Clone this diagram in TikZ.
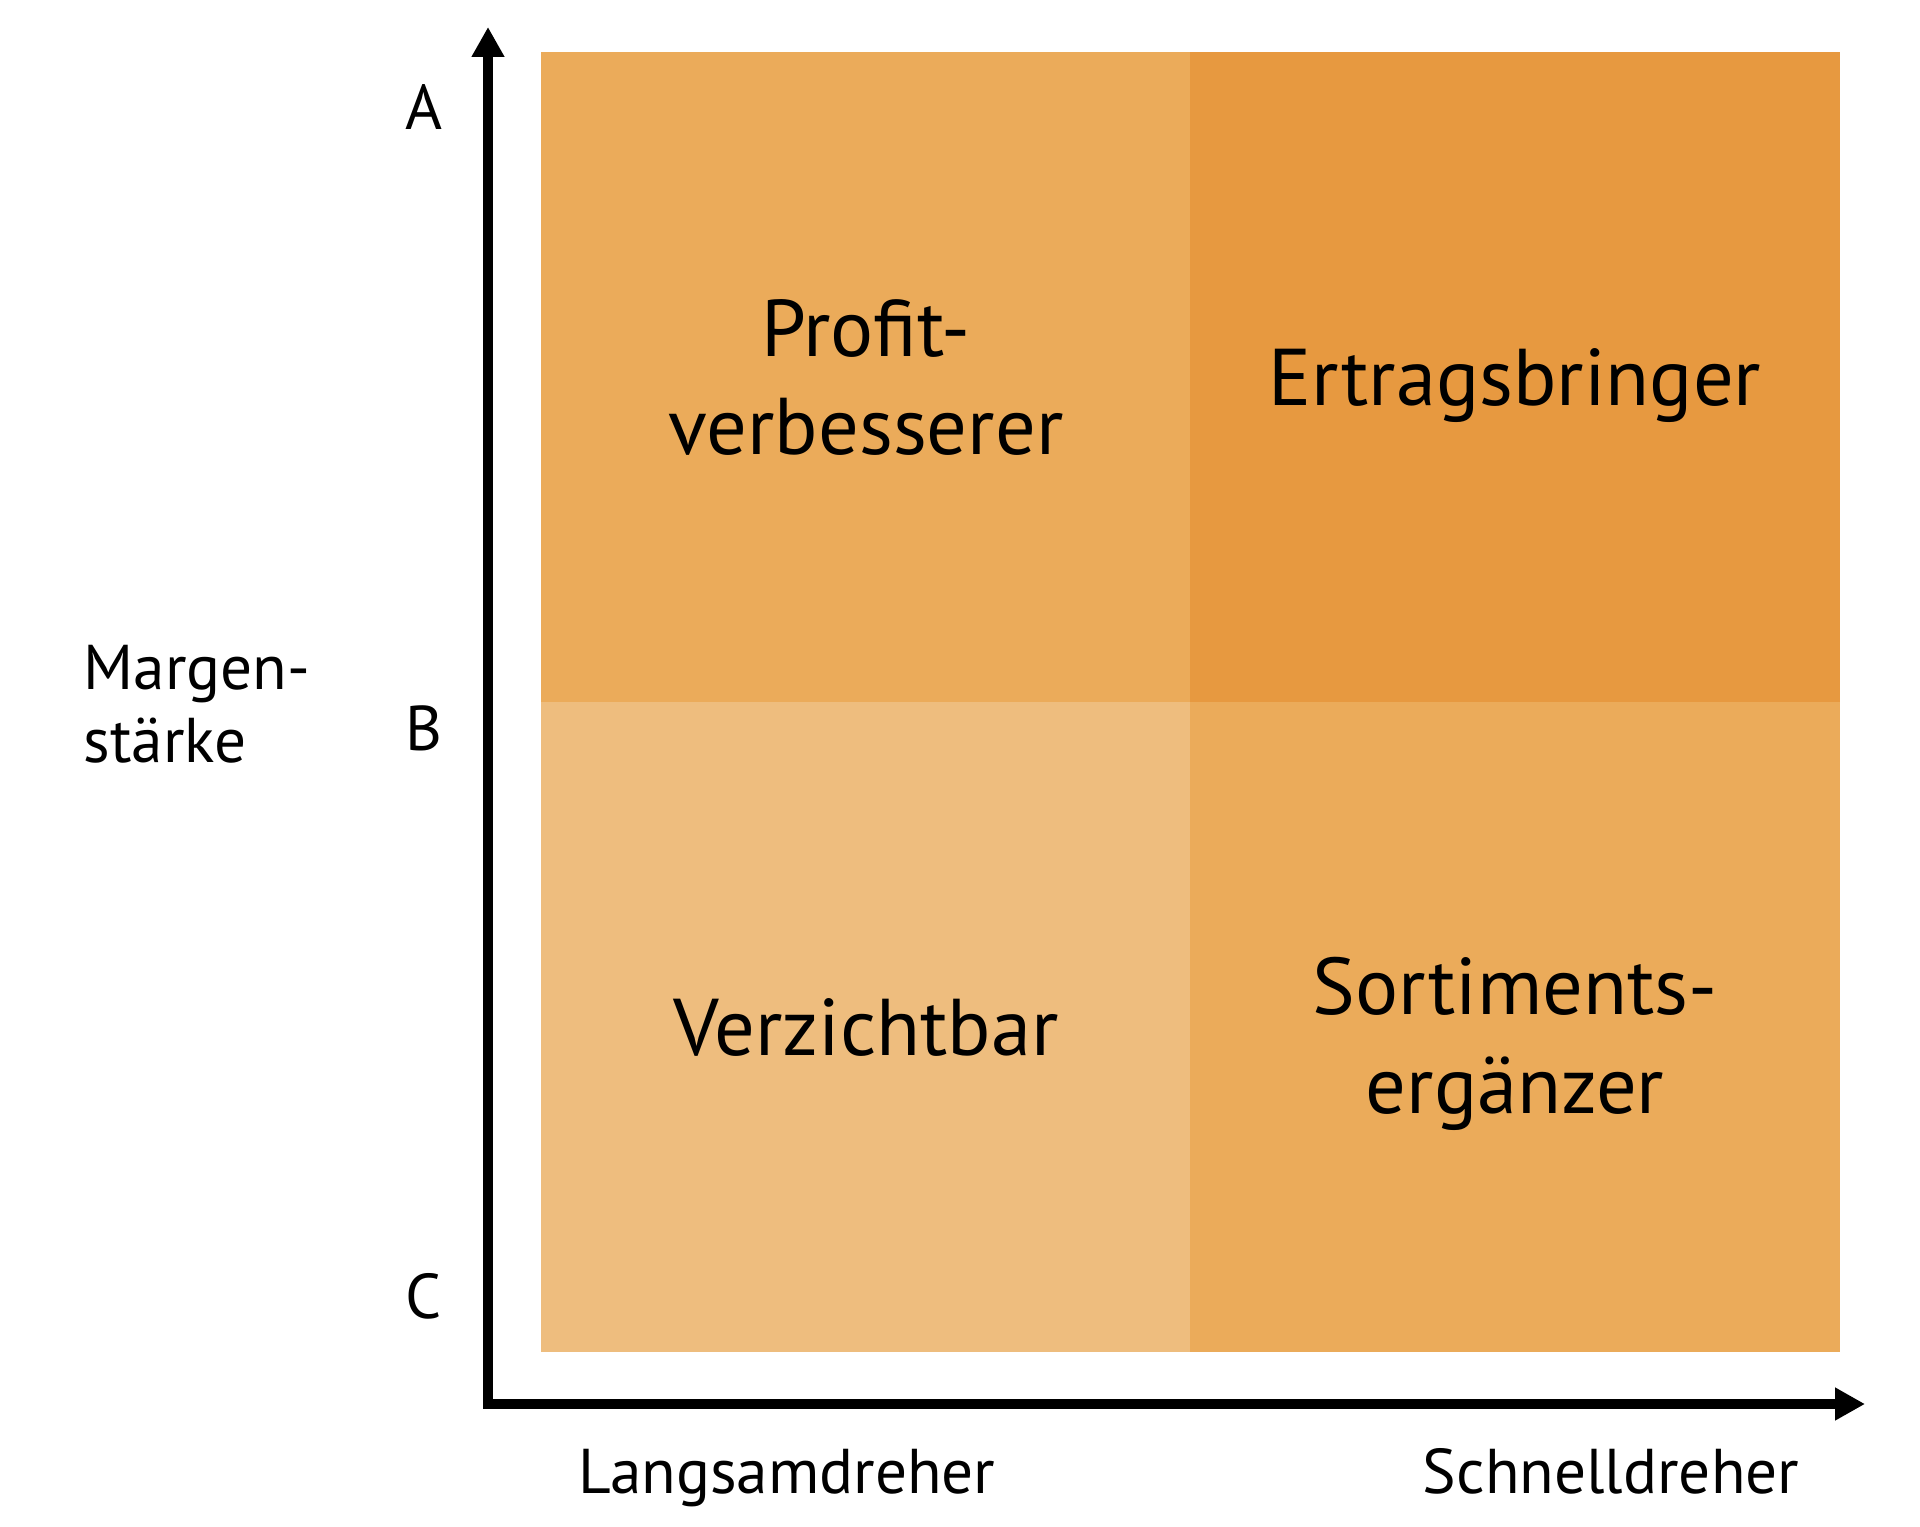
\documentclass[tikz,border=0pt]{standalone}
\usepackage{fontspec}
\setmainfont{PT Sans}
\usetikzlibrary{arrows.meta}

\definecolor{feldmittel}{RGB}{235,171,90}
\definecolor{felddunkel}{RGB}{231,153,64}
\definecolor{feldhell}{RGB}{238,189,126}

\begin{document}
\begin{tikzpicture}[
  quad/.style={inner sep=0pt, minimum width=6.5cm, minimum height=6.5cm, align=center,
    font=\fontsize{22.9}{27.9}\selectfont},
  lbl/.style={inner sep=0pt, font=\fontsize{18}{20.5}\selectfont},
  axis/.style={line width=2.85pt, line join=miter,
    {Triangle[length=0.3cm,width=0.31cm]}-{Triangle[length=0.3cm,width=0.31cm]}}]
\useasboundingbox (0,0) rectangle (19.2,15.26);
% Felder
\node[quad, fill=feldmittel] (pv) at (8.66,11.485) {Profit-\\verbesserer};
\node[quad, fill=felddunkel, text depth=0pt] (eb) at (15.15,11.485) {Ertragsbringer};
\node[quad, fill=feldhell] (vz) at (8.66,4.99) {Verzichtbar};
\node[quad, fill=feldmittel] (se) at (15.15,4.99) {\\[-27.9pt]\\[-2pt]Sortiments-\\ergänzer};
% Achsen
\coordinate (ytip) at (4.88,14.99);
\coordinate (o) at (4.88,1.22);
\coordinate (xtip) at (18.65,1.22);
\draw[axis] (ytip) -- (o) -- (xtip);
\node[lbl, anchor=base] (a) at (4.24,13.96) {A};
\node[lbl, anchor=base] (b) at (4.24,7.76) {B};
\node[lbl, anchor=base] (c) at (4.24,2.08) {C};
\node[lbl, anchor=north west, align=left] (ms) at (0.83,8.81) {Margen-\\stärke};
\node[lbl, anchor=base west] (ld) at (5.78,0.33) {Langsamdreher};
\node[lbl, anchor=base east] (sd) at (18.00,0.33) {Schnelldreher};
\end{tikzpicture}
\end{document}
